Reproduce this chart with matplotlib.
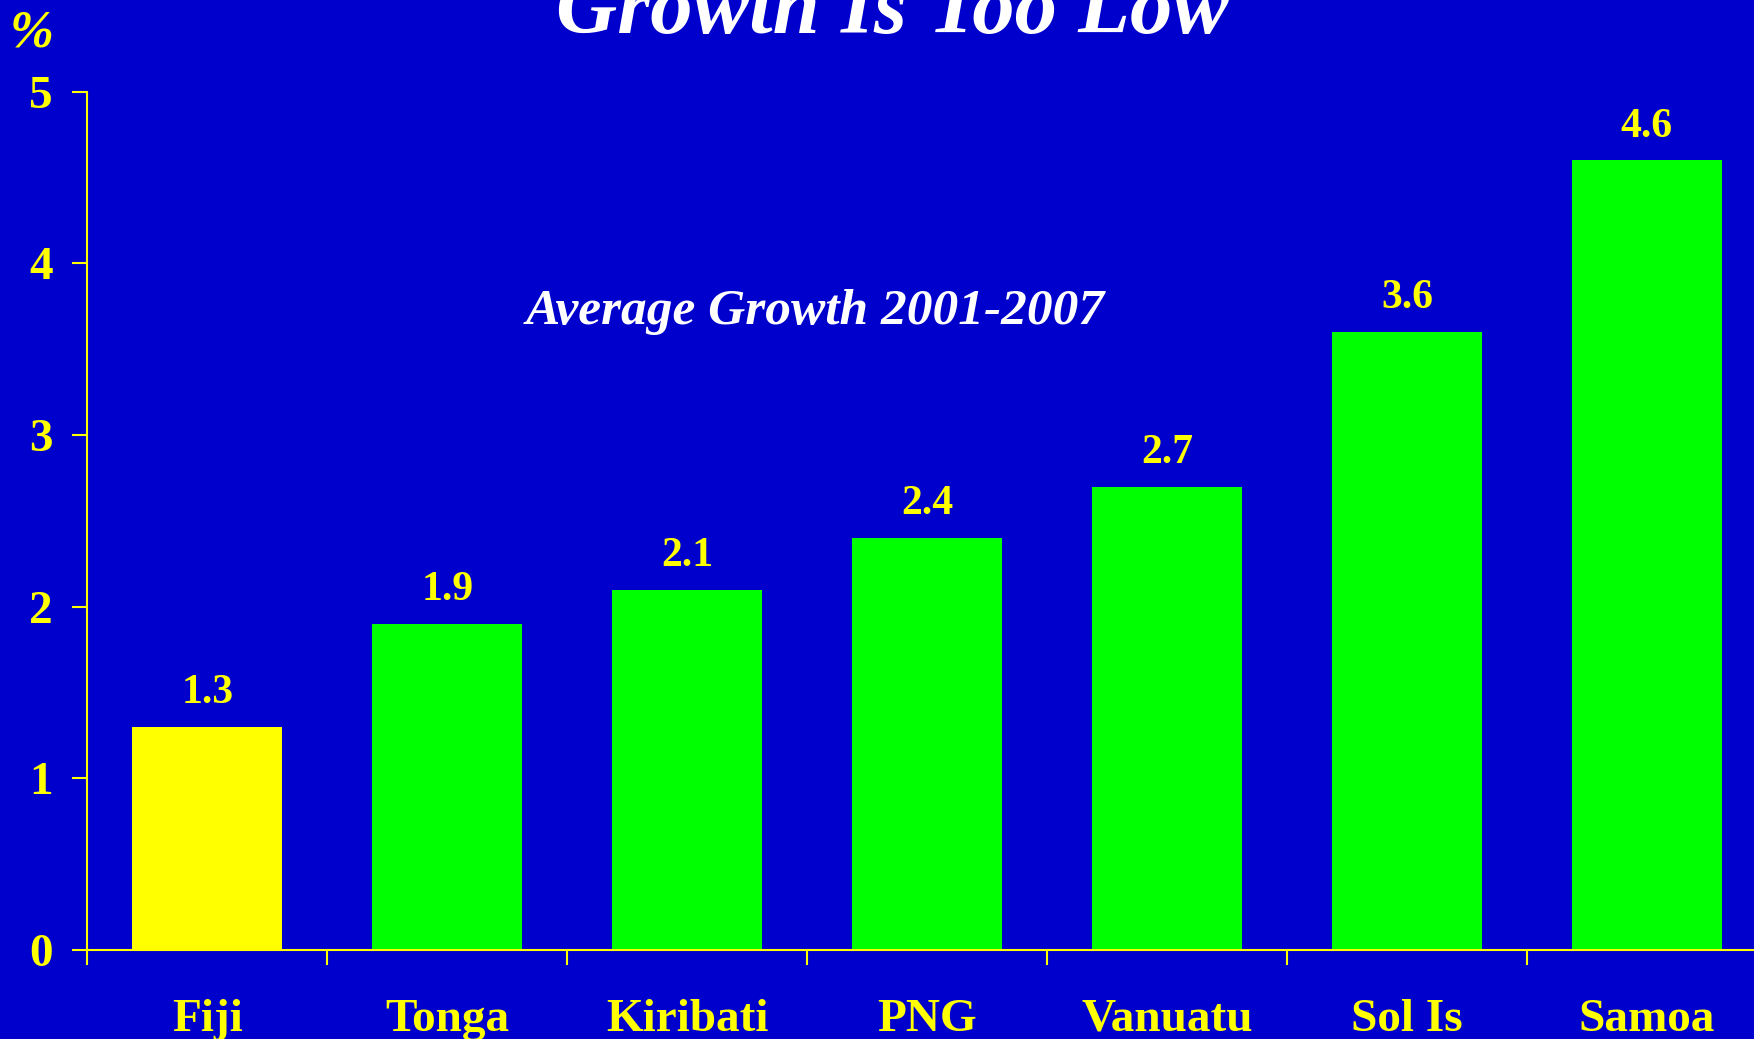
import matplotlib.pyplot as plt
import numpy as np

countries = ["Fiji", "Tonga", "Kiribati", "PNG", "Vanuatu", "Sol Is", "Samoa"]
growth = [1.3, 1.9, 2.1, 2.4, 2.7, 3.6, 4.6]
bar_colors = ["#FFFF00", "#00FF00", "#00FF00", "#00FF00", "#00FF00", "#00FF00", "#00FF00"]
y_ticks = [0, 1, 2, 3, 4, 5]

bg = "#0000CC"
yellow = "#FFFF00"
plt.rcParams['font.family'] = ['Liberation Serif', 'DejaVu Serif']

fig = plt.figure(figsize=(17.54, 10.39), dpi=100)
fig.patch.set_facecolor(bg)
ax = fig.add_axes([0.0498, 0.0857, 0.9575, 0.826])
ax.set_facecolor(bg)

x = np.arange(len(countries))
ax.bar(x, growth, width=0.625, color=bar_colors)

for xi, v in zip(x, growth):
    ax.annotate(f"{v:.1f}", (xi, v), xytext=(0, 17), textcoords='offset points',
                ha='center', va='baseline', color=yellow, fontsize=30, fontweight='bold')

ax.set_xlim(-0.5, 6.5)
ax.set_ylim(0, 5)
ax.set_yticks(y_ticks)
ax.set_yticklabels([str(t) for t in y_ticks])
ax.set_xticks(x)
ax.set_xticklabels(countries)
ax.set_xticks(np.arange(-0.5, 6.5, 1.0), minor=True)

for s in ['top', 'right']:
    ax.spines[s].set_visible(False)
for s in ['left', 'bottom']:
    ax.spines[s].set_color(yellow)
    ax.spines[s].set_linewidth(1.5)

ax.tick_params(axis='y', which='major', direction='out', length=11, width=1.5,
               color=yellow, labelcolor=yellow, labelsize=34, pad=14)
ax.tick_params(axis='x', which='major', length=0, labelcolor=yellow, labelsize=34, pad=35)
ax.tick_params(axis='x', which='minor', direction='out', length=11, width=1.5, color=yellow)
for lab in ax.get_xticklabels() + ax.get_yticklabels():
    lab.set_fontweight('bold')

# title is cut off by the top edge, as in the original slide
fig.text(0.509, 0.968, "Growth Is Too Low", ha='center', va='baseline', color='white',
         fontsize=61, fontweight='bold', fontstyle='italic')
fig.text(0.465, 0.7, "Average Growth 2001-2007", ha='center', va='center', color='white',
         fontsize=37, fontweight='bold', fontstyle='italic')
fig.text(0.018, 0.968, "%", ha='center', va='center', color=yellow,
         fontsize=38, fontweight='bold', fontstyle='italic')

fig.savefig("out.png", dpi=100, facecolor=bg)
